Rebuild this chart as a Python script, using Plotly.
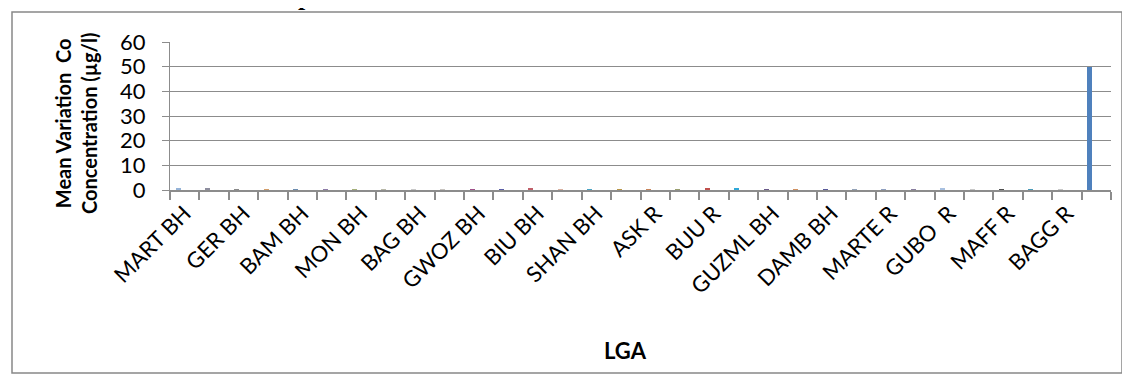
import plotly.graph_objects as go

# ---- data ----
tick_labels = ["MART BH", "GER BH", "BAM BH", "MON BH", "BAG BH", "GWOZ BH",
               "BIU BH", "SHAN BH", "ASK R", "BUU R", "GUZML BH", "DAMB BH",
               "MARTE R", "GUBO\u00a0 R", "MAFF R", "BAGG R"]
category_index = list(range(32))
values = [0.6, 0.5, 0.3, 0.3, 0.4, 0.3, 0.3, 0.2,
          0.15, 0.15, 0.4, 0.4, 0.45, 0.2, 0.4, 0.4,
          0.3, 0.3, 0.9, 0.8, 0.4, 0.3, 0.4, 0.3,
          0.3, 0.3, 0.7, 0.1, 0.4, 0.4, 0.1, 50]
bar_colors = ["#95B3D7", "#8E8E9E", "#8A8A8A", "#D39E6B", "#6D8DB0", "#8E7CA8", "#A5B07A", "#B8B8A8",
              "#C8C8C8", "#C8C4C0", "#A0508A", "#5B5EA6", "#C0606A", "#D8B0A0", "#4BA3C3", "#B8964A",
              "#C8845A", "#9AA070", "#C0504D", "#2FA8D8", "#6A5A8A", "#D09060", "#5A5A9A", "#94A3B8",
              "#8FA0C0", "#8A7FA0", "#A8C0E0", "#C8C8C8", "#505050", "#4A9AB8", "#C8C8C8", "#4F81BD"]

FONT = "Lato"
GRAY = "#8c8c8c"
OFF = 8  # page body margin

fig = go.Figure()
fig.add_trace(go.Bar(
    x=category_index, y=values,
    marker=dict(color=bar_colors, line=dict(width=0)),
    width=0.17, offset=-0.31,
))

W, H = 1130 - OFF, 380 - OFF
L, T = 170 - OFF, 42 - OFF
R = W - (1111 - OFF)
B = H - (190 - OFF)
pw, ph = W - L - R, H - T - B


def px(xp):
    return (xp - OFF - L) / pw


def py(yp):
    return (H - B - (yp - OFF)) / ph


fig.update_layout(
    width=W, height=H,
    margin=dict(l=L, r=R, t=T, b=B, pad=0, autoexpand=False),
    paper_bgcolor="white", plot_bgcolor="white",
    showlegend=False,
    bargap=0,
    font=dict(family=FONT, size=22, color="black"),
    xaxis=dict(
        automargin=False,
        range=[-0.5, 31.5],
        tickmode="array",
        tickvals=category_index[0::2],
        ticktext=tick_labels,
        tickangle=-45,
        ticks="",
        tickfont=dict(family=FONT, size=22, color="black"),
        showline=True, linecolor=GRAY, linewidth=2,
        showgrid=False, zeroline=False,
        minor=dict(ticks="outside", tickmode="linear", tick0=-0.5, dtick=1,
                   ticklen=8, tickcolor=GRAY, tickwidth=2, showgrid=False),
    ),
    yaxis=dict(
        automargin=False,
        range=[0, 60], dtick=10, tick0=0,
        showgrid=True, gridcolor=GRAY, gridwidth=1,
        showline=True, linecolor=GRAY, linewidth=1,
        ticks="outside", ticklen=7, tickcolor=GRAY,
        ticklabelstandoff=12,
        tickfont=dict(family=FONT, size=22, color="black"),
        zeroline=False,
    ),
    shapes=[dict(type="rect", xref="paper", yref="paper",
                 x0=px(12), x1=px(1122), y0=py(373), y1=py(12),
                 line=dict(color="#888888", width=1.5), layer="below")],
    annotations=[
        dict(text="Mean Variation\u00a0 Co<br>Concentration (µg/l)",
             xref="paper", yref="paper", x=px(76), y=py(124),
             xanchor="center", yanchor="middle", textangle=-90,
             showarrow=False, font=dict(family=FONT, size=20, color="black", weight="bold")),
        dict(text="LGA", xref="paper", yref="paper", x=px(625), y=py(350),
             xanchor="center", yanchor="middle", showarrow=False,
             font=dict(family=FONT, size=22, color="black", weight="bold")),
        dict(text="p", xref="paper", yref="paper", x=px(305), y=py(-4),
             xanchor="center", yanchor="middle", showarrow=False,
             font=dict(family="Liberation Serif", size=26, color="black", weight="bold")),
    ],
)

fig.write_html("out.html")
